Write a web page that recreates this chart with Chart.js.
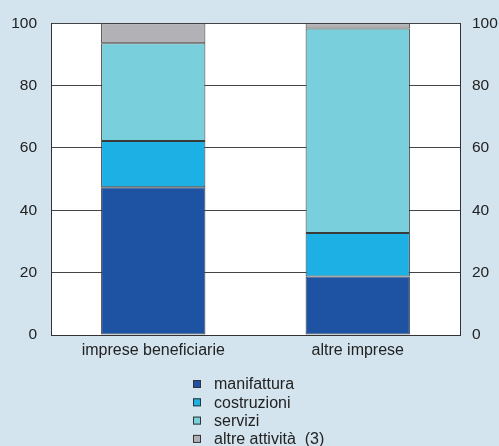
<!DOCTYPE html>
<html>
<head>
<meta charset="utf-8">
<script src="https://cdn.jsdelivr.net/npm/chart.js@4/dist/chart.umd.min.js"></script>
<style>
  html, body { margin: 0; padding: 0; background: #d3e4ee; overflow: hidden; }
  #wrap { width: 499px; height: 446px; position: relative; }
</style>
</head>
<body>
<div id="wrap"><canvas id="c" width="499" height="446"></canvas></div>
<script>
const categories = ["imprese beneficiarie", "altre imprese"];
const seriesNames = ["manifattura", "costruzioni", "servizi", "altre attività  (3)"];
const manifattura = [47.4, 18.8];
const costruzioni = [14.8, 13.9];
const servizi = [31.4, 65.6];
const altreAttivita = [6.4, 1.7];
const yTicks = [0, 20, 40, 60, 80, 100];

const colors = ["#1d53a2", "#1cb0e4", "#79cfdc", "#b1b1b6"];
const values = [manifattura, costruzioni, servizi, altreAttivita];

const FONT = "'Liberation Sans', Arial, sans-serif";

const bgPlugin = {
  id: 'bg',
  beforeDraw(chart) {
    const ctx = chart.ctx;
    ctx.save();
    ctx.fillStyle = '#d3e4ee';
    ctx.fillRect(0, 0, chart.width, chart.height);
    const a = chart.chartArea;
    ctx.fillStyle = '#ffffff';
    ctx.fillRect(a.left, a.top, a.right - a.left, a.bottom - a.top);
    ctx.restore();
  }
};

const legendPlugin = {
  id: 'vlegend',
  afterDraw(chart) {
    const ctx = chart.ctx;
    ctx.save();
    ctx.font = "16px " + FONT;
    ctx.textBaseline = 'middle';
    ctx.textAlign = 'left';
    const x0 = 193, y0 = 384, dy = 18.3, box = 8;
    chart.data.datasets.forEach((ds, i) => {
      const y = y0 + i * dy;
      ctx.fillStyle = ds.backgroundColor;
      ctx.fillRect(x0, y - box / 2, box, box);
      ctx.strokeStyle = '#333333';
      ctx.lineWidth = 1;
      ctx.strokeRect(x0 + 0.5, y - box / 2 + 0.5, box - 1, box - 1);
      ctx.fillStyle = '#222222';
      ctx.fillText(ds.label, 214, y + 1);
    });
    ctx.restore();
  }
};

new Chart(document.getElementById('c'), {
  type: 'bar',
  data: {
    labels: categories,
    datasets: seriesNames.map((name, i) => ({
      label: name,
      data: values[i],
      backgroundColor: colors[i],
      borderColor: '#3a3a3a',
      borderWidth: 1,
      borderSkipped: false,
      categoryPercentage: 1,
      barPercentage: 0.51,
      yAxisID: 'y'
    }))
  },
  options: {
    responsive: false,
    animation: false,
    layout: { padding: { top: 23, left: 0, right: 0, bottom: 0 } },
    plugins: {
      legend: { display: false },
      tooltip: { enabled: false }
    },
    scales: {
      x: {
        stacked: true,
        grid: { display: false, drawTicks: false },
        border: { display: true, color: '#333333', width: 1 },
        ticks: { color: '#222222', font: { family: FONT, size: 16 }, padding: 6 },
        afterFit(scale) { scale.height = 111; }
      },
      y: {
        stacked: true,
        min: 0, max: 100,
        position: 'left',
        afterBuildTicks(scale) { scale.ticks = yTicks.map(v => ({ value: v })); },
        grid: { color: '#444444', lineWidth: 1, drawTicks: false },
        border: { display: true, color: '#333333', width: 1 },
        ticks: { color: '#222222', font: { family: FONT, size: 15.5 }, padding: 14 },
        afterFit(scale) { scale.width = 51; }
      },
      y2: {
        min: 0, max: 100,
        position: 'right',
        afterBuildTicks(scale) { scale.ticks = yTicks.map(v => ({ value: v })); },
        grid: { display: false, drawTicks: false },
        border: { display: true, color: '#333333', width: 1 },
        ticks: { color: '#222222', font: { family: FONT, size: 15.5 }, padding: 12 },
        afterFit(scale) { scale.width = 39; }
      }
    }
  },
  plugins: [bgPlugin, legendPlugin]
});
</script>
</body>
</html>
